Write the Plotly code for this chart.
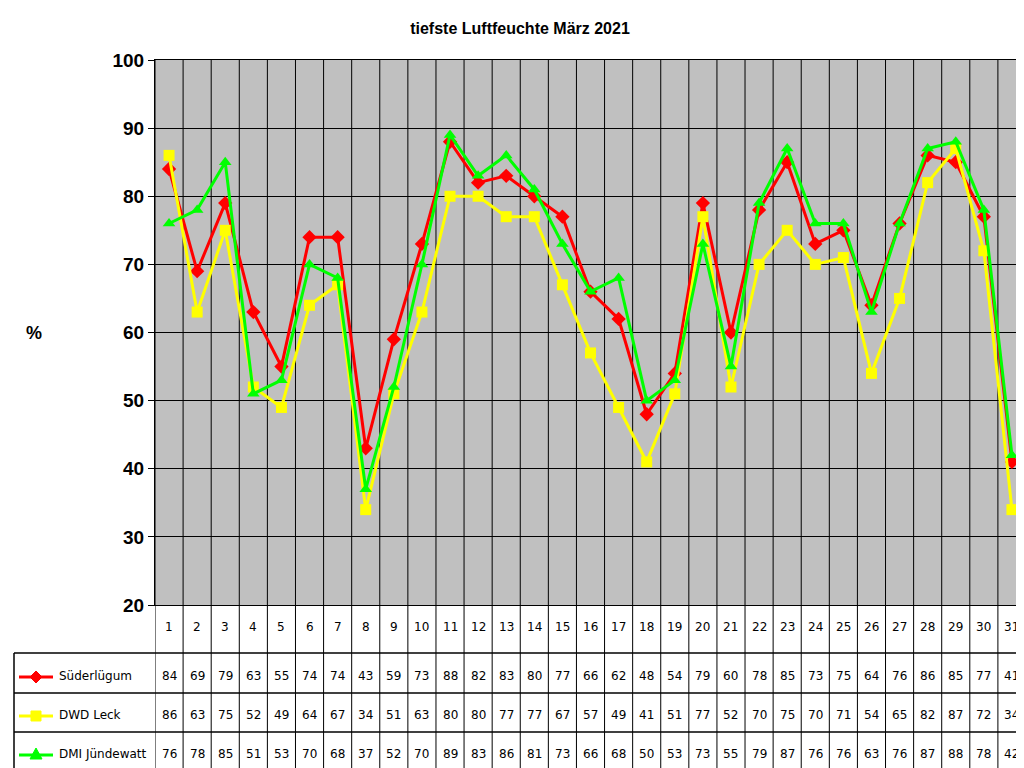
import plotly.graph_objects as go

days = list(range(1, 32))
sued = [84, 69, 79, 63, 55, 74, 74, 43, 59, 73, 88, 82, 83, 80, 77, 66, 62, 48, 54, 79, 60, 78, 85, 73, 75, 64, 76, 86, 85, 77, 41]
leck = [86, 63, 75, 52, 49, 64, 67, 34, 51, 63, 80, 80, 77, 77, 67, 57, 49, 41, 51, 77, 52, 70, 75, 70, 71, 54, 65, 82, 87, 72, 34]
dmi = [76, 78, 85, 51, 53, 70, 68, 37, 52, 70, 89, 83, 86, 81, 73, 66, 68, 50, 53, 73, 55, 79, 87, 76, 76, 63, 76, 87, 88, 78, 42]
names = ["Süderlügum", "DWD Leck", "DMI Jündewatt"]
colors = ["#FF0000", "#FFFF00", "#00FF00"]
symbols = ["diamond", "square", "triangle-up"]
series = [sued, leck, dmi]

W, H = 1024, 768
L, R, T, B = 147, 1018, 52, 597


def py(y):
    return (B - y) / (B - T)


def px(x):
    return (x - L) / (R - L)


def pix_path(pts):
    # pixel coords -> paper coords SVG path
    return "M " + " L ".join(f"{px(x):.5f},{py(y):.5f}" for x, y in pts) + " Z"


fig = go.Figure()
for name, vals, col, sym in zip(names, series, colors, symbols):
    fig.add_trace(go.Scatter(x=days, y=vals, name=name, mode="lines+markers",
                             line=dict(color=col, width=3), cliponaxis=False,
                             marker=dict(symbol=sym, size=11, color=col)))

# vertical grid / table columns
for i in range(32):
    fig.add_shape(type="line", xref="x", yref="paper", x0=i + 0.5, x1=i + 0.5,
                  y0=py(762), y1=1, line=dict(color="black", width=1), layer="below")
for y in [645, 685, 724, 762]:
    fig.add_shape(type="line", xref="paper", yref="paper", x0=px(6), x1=1,
                  y0=py(y), y1=py(y), line=dict(color="black", width=1.5))
fig.add_shape(type="line", xref="paper", yref="paper", x0=px(6), x1=px(6),
              y0=py(645), y1=py(762), line=dict(color="black", width=1.5))

font = dict(family="DejaVu Sans", size=12, color="black")
for d in days:
    fig.add_annotation(x=d, y=py(628), xref="x", yref="paper", text=str(d),
                       showarrow=False, font=font)
rows_y = [677, 716, 755]
for r, (name, vals, col) in enumerate(zip(names, series, colors)):
    for d, v in zip(days, vals):
        fig.add_annotation(x=d, y=py(rows_y[r]), xref="x", yref="paper", text=str(v),
                           showarrow=False, font=font)
    fig.add_annotation(x=px(49), y=py(rows_y[r]), xref="paper", yref="paper", text=name,
                       showarrow=False, xanchor="left", font=font)
    cy = rows_y[r] - 8
    fig.add_shape(type="line", xref="paper", yref="paper", x0=px(11), x1=px(45),
                  y0=py(cy), y1=py(cy), line=dict(color=col, width=3))
    if r == 0:
        pts = [(28, cy - 6), (34, cy), (28, cy + 6), (22, cy)]
    elif r == 1:
        pts = [(23, cy - 5), (33, cy - 5), (33, cy + 5), (23, cy + 5)]
    else:
        pts = [(28, cy - 7), (34, cy + 4), (22, cy + 4)]
    fig.add_shape(type="path", xref="paper", yref="paper", path=pix_path(pts),
                  fillcolor=col, line=dict(color=col, width=1))

fig.add_annotation(x=px(16), y=py(325), xref="paper", yref="paper", text="<b>%</b>",
                   showarrow=False, font=dict(family="Arial", size=18, color="black"))

fig.update_layout(
    width=W, height=H, showlegend=False,
    margin=dict(l=L, r=W - R, t=T, b=H - B, autoexpand=False),
    paper_bgcolor="white", plot_bgcolor="#C0C0C0",
    title=dict(text="<b>tiefste Luftfeuchte März 2021</b>", x=0.5, xref="container",
               y=1 - 20 / H, yanchor="middle", font=dict(family="Arial", size=16, color="black")),
    xaxis=dict(range=[0.5, 31.5], showticklabels=False, showgrid=False, zeroline=False,
               showline=True, linecolor="black", mirror=True),
    yaxis=dict(range=[20, 100], dtick=10, showgrid=True, gridcolor="black", gridwidth=1,
               zeroline=False, showline=True, linecolor="black", mirror=True,
               ticks="outside", ticklen=6, tickcolor="black",
               tickfont=dict(family="Arial", size=19, color="black"),
               tickprefix="<b>", ticksuffix="</b>"),
)
fig.write_html("out.html")
